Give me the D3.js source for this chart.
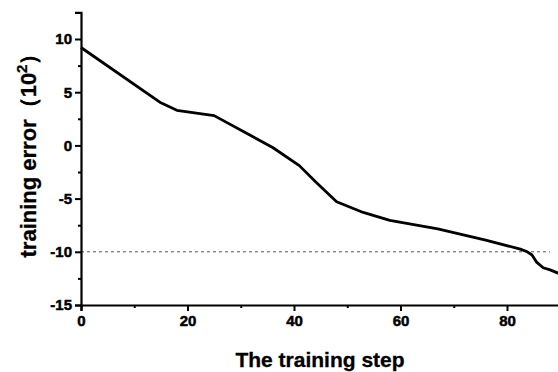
<!DOCTYPE html>
<html>
<head>
<meta charset="utf-8">
<script src="https://cdn.jsdelivr.net/npm/d3@7"></script>
<style>
  body { margin: 0; background: #fff; }
  svg { display: block; }
  svg text { font-family: "Liberation Sans", Arial, sans-serif; font-weight: bold; fill: #000; }
</style>
</head>
<body>
<div id="chart"></div>
<script>
// data
const steps = [0, 15, 18, 25, 36, 41, 44, 48, 53, 58, 67, 76, 82.5, 83.8, 84.7, 85.6, 86.8, 88.1, 89.6, 91];
const errors = [9.2, 4.0, 3.3, 2.8, -0.2, -1.9, -3.4, -5.3, -6.3, -7.05, -7.85, -8.9, -9.75, -10.0, -10.3, -11.0, -11.5, -11.7, -12.0, -12.3];
const xTicks = [0, 20, 40, 60, 80];
const yTicks = [-15, -10, -5, 0, 5, 10];
const threshold = -10;

drawChart();

function drawChart() {
    const width = 558;
    const height = 372;

    const svg = d3.select("#chart").append("svg")
        .attr("width", width)
        .attr("height", height);

    const x = d3.scaleLinear().domain([0, 90]).range([81, 81 + 479.25]);
    const y = d3.scaleLinear().domain([-15, 12.5]).range([305, 305 - 27.5 * 10.64]);

    // dashed threshold line
    svg.append("line")
        .attr("x1", x(0)).attr("x2", 550)
        .attr("y1", y(threshold)).attr("y2", y(threshold))
        .attr("stroke", "#555")
        .attr("stroke-width", 1)
        .attr("stroke-dasharray", "3,3");

    // the curve
    const line = d3.line()
        .x(function(d, i) { return x(steps[i]); })
        .y(function(d) { return y(d); });

    svg.append("path")
        .datum(errors)
        .attr("d", line)
        .attr("fill", "none")
        .attr("stroke", "#000")
        .attr("stroke-width", 2.8)
        .attr("stroke-linejoin", "round");

    const fmt = function(d) { return String(d); };

    // x axis
    svg.append("g")
        .attr("transform", "translate(0," + y(-15) + ")")
        .call(d3.axisBottom(x).tickValues(xTicks).tickSize(6).tickPadding(4).tickFormat(fmt));
    svg.append("g")
        .attr("transform", "translate(0," + y(-15) + ")")
        .call(d3.axisBottom(x).tickValues([10, 30, 50, 70, 90]).tickSize(3).tickFormat(""))
        .select(".domain").remove();

    // y axis
    svg.append("g")
        .attr("transform", "translate(" + x(0) + ",0)")
        .call(d3.axisLeft(y).tickValues(yTicks).tickSize(6).tickPadding(3).tickFormat(fmt));
    svg.append("g")
        .attr("transform", "translate(" + x(0) + ",0)")
        .call(d3.axisLeft(y).tickValues([-12.5, -7.5, -2.5, 2.5, 7.5]).tickSize(3).tickFormat(""))
        .select(".domain").remove();

    svg.selectAll(".domain")
        .attr("stroke", "#000")
        .attr("stroke-width", 2.2);
    svg.selectAll(".tick line")
        .attr("stroke", "#000")
        .attr("stroke-width", 2);
    svg.selectAll(".tick text")
        .attr("font-family", null)
        .style("font-family", "'Liberation Sans', Arial, sans-serif")
        .style("font-weight", "700")
        .style("font-size", "15px")
        .style("fill", "#000")
        .style("stroke", "#000")
        .style("stroke-width", "0.5px");

    // axis titles
    svg.append("text")
        .attr("x", 320)
        .attr("y", 367)
        .attr("text-anchor", "middle")
        .style("font-size", "21px")
        .style("stroke", "#000")
        .style("stroke-width", "0.3px")
        .text("The training step");

    const yl = svg.append("text")
        .attr("transform", "translate(36,150) rotate(-90)")
        .attr("text-anchor", "middle")
        .style("font-size", "22px")
        .style("stroke", "#000")
        .style("stroke-width", "0.3px");
    yl.append("tspan").text("training error（10");
    yl.append("tspan").attr("dy", -9).style("font-size", "15px").text("2");
    yl.append("tspan").attr("dy", 9).text("）");
}
</script>
</body>
</html>
